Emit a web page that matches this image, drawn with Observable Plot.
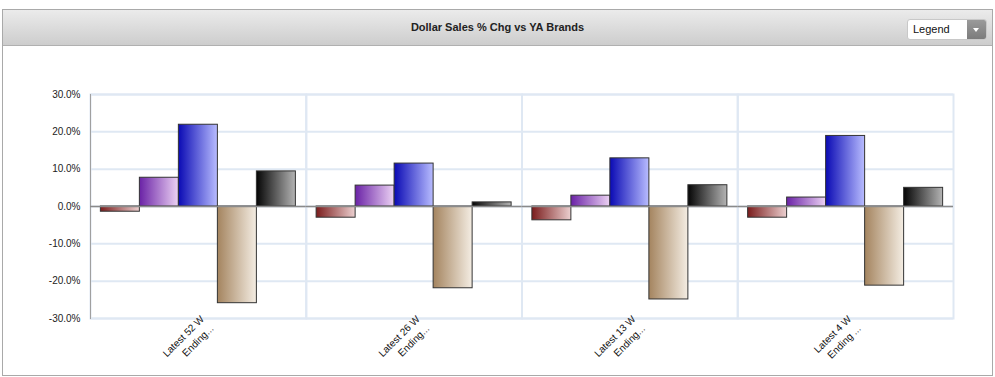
<!DOCTYPE html>
<html>
<head>
<meta charset="utf-8">
<script src="https://cdn.jsdelivr.net/npm/d3@7"></script>
<script src="https://cdn.jsdelivr.net/npm/@observablehq/plot@0.6"></script>
<style>
  html, body { margin: 0; padding: 0; background: #fff; font-family: "Liberation Sans", Arial, sans-serif; }
  #wrap { position: relative; width: 995px; height: 377px; overflow: hidden; }
  #box { position: absolute; left: 2px; top: 9px; width: 989px; height: 365px; border: 1px solid #a9a9a9; box-sizing: content-box; }
  #header { position: absolute; left: 0; top: 0; width: 989px; height: 35px;
    background: linear-gradient(#ebebeb, #cdcdcd); border-bottom: 1px solid #b0b0b0; }
  #title { position: absolute; left: 0; width: 100%; top: 11px; text-align: center; font-size: 11px; font-weight: bold; color: #222; }
  #legend { position: absolute; left: 904px; top: 9px; width: 78px; height: 19px; border-radius: 3px; background: #fff; border: 1px solid #c8c8c8; overflow: hidden; }
  #legend span { position: absolute; left: 5px; top: 3px; font-size: 11px; color: #111; }
  #legend .btn { position: absolute; right: 0; top: 0; width: 19px; height: 19px; background: linear-gradient(#9a9a9a, #7c7c7c); }
  #legend .btn::after { content: ""; position: absolute; left: 6px; top: 8px; border-left: 3.5px solid transparent; border-right: 3.5px solid transparent; border-top: 4px solid #fff; }
  #chart { position: absolute; left: 0; top: 50px; }
</style>
</head>
<body>
<div id="wrap">
  <div id="box">
    <div id="header"><div id="title">Dollar Sales % Chg vs YA Brands</div>
      <div id="legend"><span>Legend</span><div class="btn"></div></div>
    </div>
  </div>
  <div id="chart"></div>
</div>
<script>
// Periods (x groups) and their tick labels
const periods = ["Latest 52 W", "Latest 26 W", "Latest 13 W", "Latest 4 W"];
const periodLabels = ["Latest 52 W\nEnding...", "Latest 26 W\nEnding...", "Latest 13 W\nEnding...", "Latest 4 W\nEnding ..."];
// Brand series (legend hidden in the reference)
const brands = ["Brand 1", "Brand 2", "Brand 3", "Brand 4", "Brand 5"];
// % change values per brand, one per period
const brand1 = [-1.4, -3.0, -3.7, -3.0];
const brand2 = [7.7, 5.6, 2.9, 2.4];
const brand3 = [21.9, 11.5, 12.9, 18.9];
const brand4 = [-25.9, -21.9, -24.9, -21.2];
const brand5 = [9.4, 1.1, 5.7, 5.0];
const yTicks = [-30, -20, -10, 0, 10, 20, 30];
// gradient stops per brand (dark -> light)
const gradients = [
  ["#7a1c1c", "#ecd0d0"],
  ["#6a22a6", "#ecd2f4"],
  ["#0a0ab4", "#b8bcff"],
  ["#a4845f", "#f4ede3"],
  ["#050505", "#b4b4b4"]
];

const series = [brand1, brand2, brand3, brand4, brand5];
const rows = [];
series.forEach((vals, bi) => vals.forEach((v, pi) => rows.push({period: periods[pi], brand: brands[bi], value: v, bi})));

const grid = "#dfe8f3";
const plot = Plot.plot({
  width: 995,
  height: 327,
  marginLeft: 90,
  marginRight: 42,
  marginTop: 44,
  marginBottom: 59,
  style: {fontFamily: "'Liberation Sans', Arial, sans-serif", fontSize: "10px", color: "#222", background: "transparent"},
  fx: {domain: periods, padding: 0, round: false, label: null},
  x: {domain: brands, paddingInner: 0, paddingOuter: 0.266, round: false, axis: null},
  y: {domain: [-30, 30], label: null},
  marks: [
    Plot.ruleY(yTicks, {stroke: grid, strokeWidth: 2}),
    Plot.frame({stroke: grid, strokeWidth: 2}),
    Plot.frame({anchor: "left", stroke: "#a0a0a0", strokeWidth: 1, fx: () => periods[0]}),
    ...brands.map((b, i) => Plot.barY(rows.filter(r => r.bi === i), {
      fx: "period", x: "brand", y: "value",
      fill: `url(#grad${i})`, stroke: "#333", strokeWidth: 1
    })),
    Plot.ruleY([0], {stroke: "#8a8a8a", strokeWidth: 1.5}),
    Plot.axisY({ticks: yTicks, tickSize: 0, tickPadding: 10, tickFormat: d => d.toFixed(1) + "%", fontSize: 10, fill: "#222"}),
    Plot.axisFx({
      anchor: "bottom", tickSize: 0, tickRotate: -45, tickPadding: 3, dx: 8, fontSize: 10, lineHeight: 1.35, fill: "#111",
      tickFormat: d => periodLabels[periods.indexOf(d)]
    })
  ]
});

// gradient definitions referenced by the bars
const svg = d3.select(plot);
const defs = svg.insert("defs", ":first-child");
gradients.forEach(([a, b], i) => {
  const g = defs.append("linearGradient").attr("id", "grad" + i).attr("x1", 0).attr("x2", 1).attr("y1", 0).attr("y2", 0);
  g.append("stop").attr("offset", "0%").attr("stop-color", a);
  g.append("stop").attr("offset", "100%").attr("stop-color", b);
});
document.getElementById("chart").appendChild(plot);
</script>
</body>
</html>
